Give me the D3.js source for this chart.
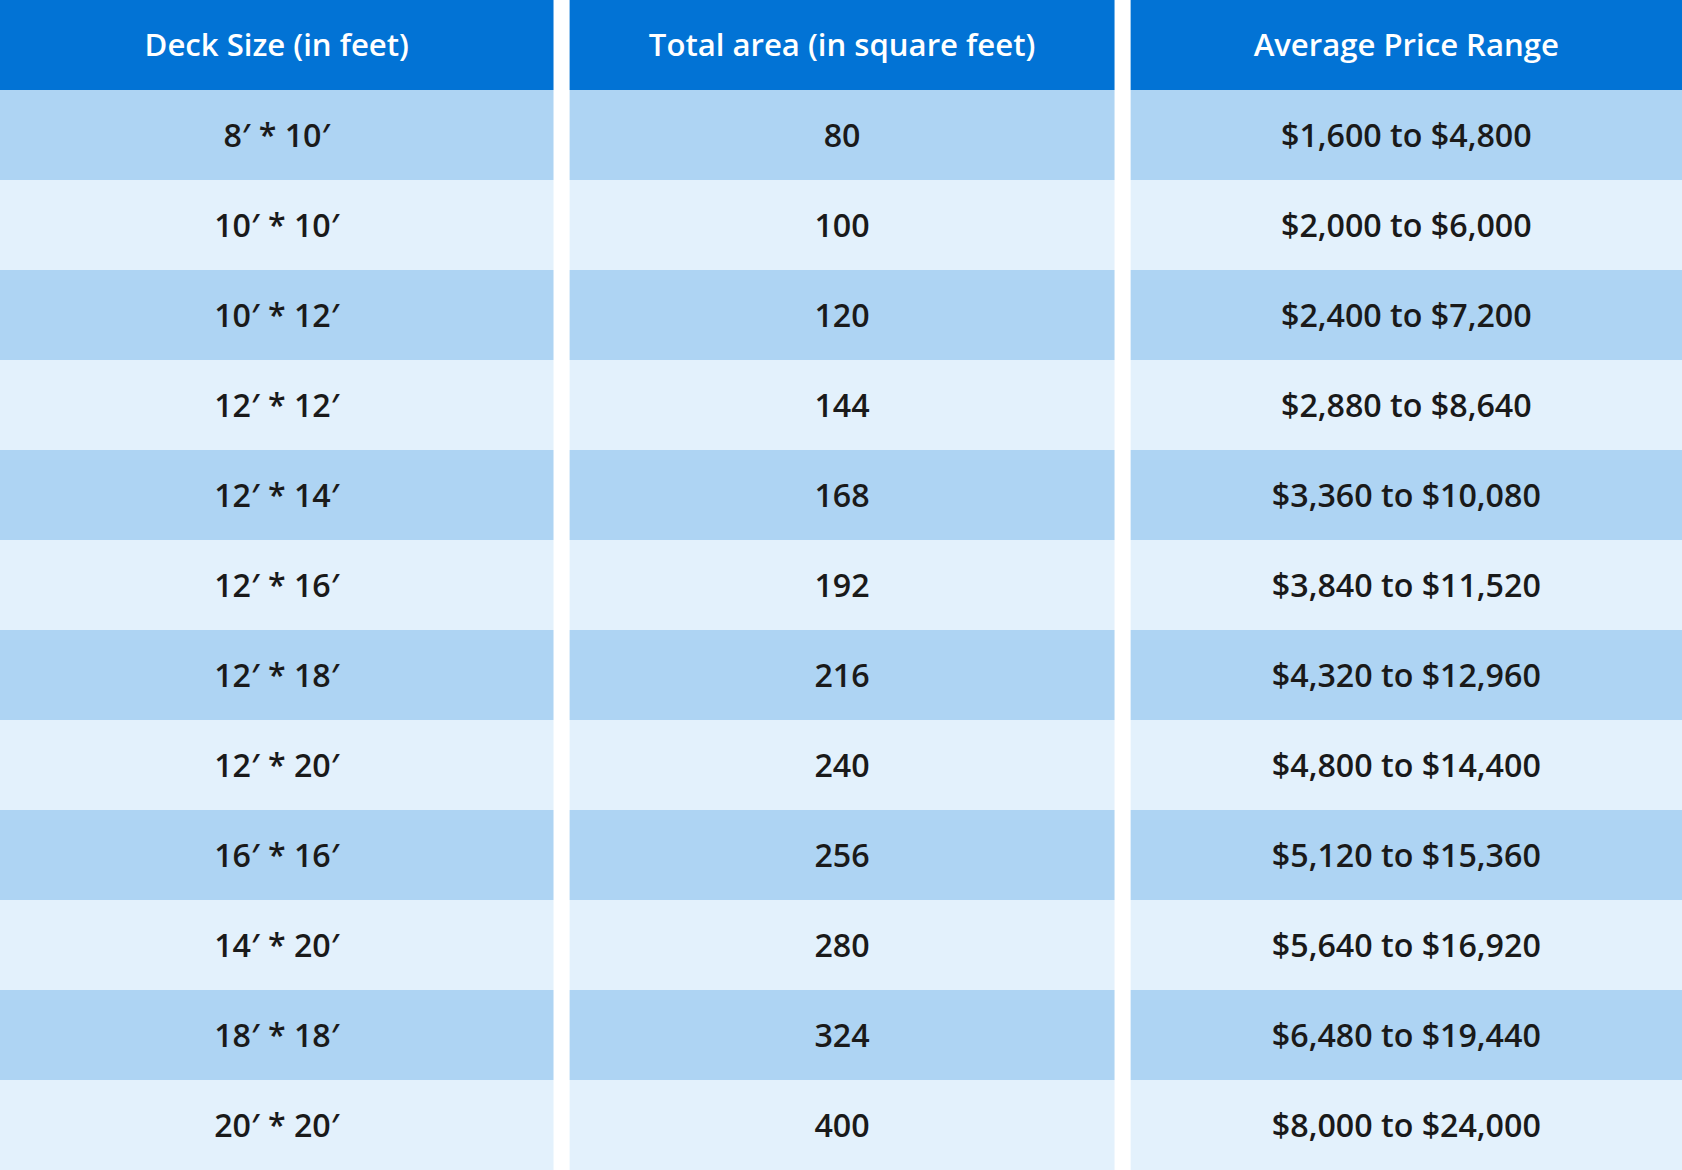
<!DOCTYPE html>
<html>
<head>
<meta charset="utf-8">
<script src="https://cdn.jsdelivr.net/npm/d3@7"></script>
<style>
  html, body { margin: 0; padding: 0; background: #fff; }
  svg { display: block; }
</style>
</head>
<body>
<script>
// data
var headers = ['Deck Size (in feet)', 'Total area (in square feet)', 'Average Price Range'];
var deckSizes = ['8′ * 10′', '10′ * 10′', '10′ * 12′', '12′ * 12′', '12′ * 14′', '12′ * 16′',
                 '12′ * 18′', '12′ * 20′', '16′ * 16′', '14′ * 20′', '18′ * 18′', '20′ * 20′'];
var areas = [80, 100, 120, 144, 168, 192, 216, 240, 256, 280, 324, 400];
var priceRanges = ['$1,600 to $4,800', '$2,000 to $6,000', '$2,400 to $7,200', '$2,880 to $8,640',
                   '$3,360 to $10,080', '$3,840 to $11,520', '$4,320 to $12,960', '$4,800 to $14,400',
                   '$5,120 to $15,360', '$5,640 to $16,920', '$6,480 to $19,440', '$8,000 to $24,000'];

// init
var width = 1568, height = 1092, headerH = 84;

var svg = d3.select('body').append('svg')
    .attr('width', 1682).attr('height', 1170)
    .attr('viewBox', '0 0 ' + width + ' ' + height)
    .attr('preserveAspectRatio', 'none')
    .style('font-family', '"Open Sans", Lato, sans-serif');

// column edges (white gaps between them)
var colX = d3.scaleOrdinal().domain([0, 1, 2]).range([0, 531, 1054]);
var colW = d3.scaleOrdinal().domain([0, 1, 2]).range([516, 508, 514]);

var yScale = d3.scaleBand().domain(d3.range(deckSizes.length)).range([headerH, height]);

var rows = deckSizes.map(function (d, i) { return [d, String(areas[i]), priceRanges[i]]; });

// header
svg.append('g').selectAll('rect')
    .data(headers).join('rect')
    .attr('x', function (d, i) { return colX(i); })
    .attr('y', 0)
    .attr('width', function (d, i) { return colW(i); })
    .attr('height', headerH)
    .attr('fill', '#0273d5');

svg.append('g').selectAll('text')
    .data(headers).join('text')
    .attr('x', function (d, i) { return colX(i) + colW(i) / 2; })
    .attr('y', headerH / 2 + 10)
    .attr('text-anchor', 'middle')
    .attr('fill', '#fff')
    .attr('font-size', 29)
    .attr('font-weight', 600)
    .text(function (d) { return d; });

// body rows
var rowG = svg.append('g').selectAll('g')
    .data(rows).join('g')
    .attr('transform', function (d, i) { return 'translate(0,' + yScale(i) + ')'; });

rowG.selectAll('rect')
    .data(function (d, i) { return d.map(function (v) { return { v: v, r: i }; }); })
    .join('rect')
    .attr('x', function (d, i) { return colX(i); })
    .attr('width', function (d, i) { return colW(i); })
    .attr('height', yScale.bandwidth())
    .attr('fill', function (d) { return d.r % 2 === 0 ? '#aed4f3' : '#e3f1fc'; });

rowG.selectAll('text')
    .data(function (d) { return d; })
    .join('text')
    .attr('x', function (d, i) { return colX(i) + colW(i) / 2; })
    .attr('y', yScale.bandwidth() / 2 + 11)
    .attr('text-anchor', 'middle')
    .attr('fill', '#1a1a1a')
    .attr('font-size', 30)
    .attr('font-weight', 600)
    .text(function (d) { return d; });
</script>
</body>
</html>
